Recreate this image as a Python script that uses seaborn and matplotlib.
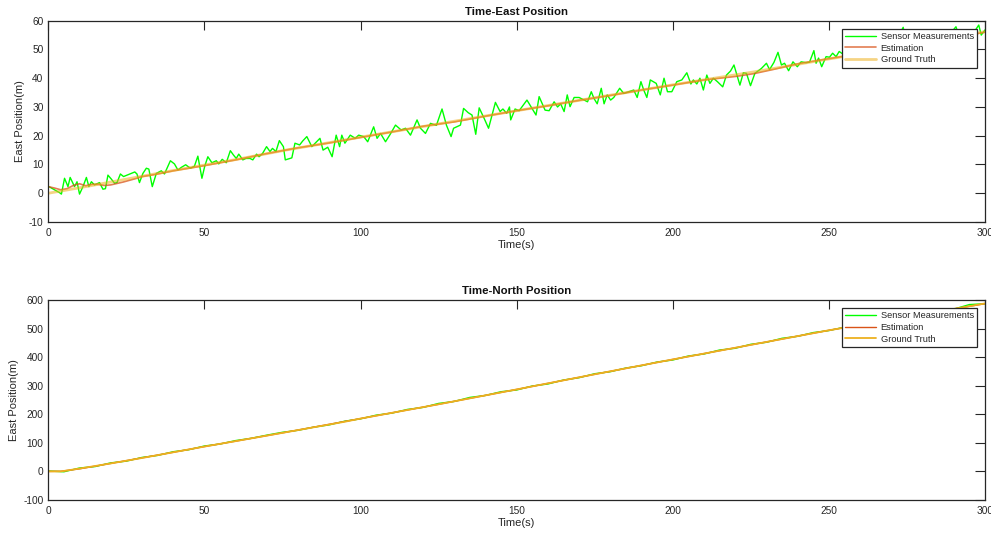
import numpy as np
import pandas as pd
import matplotlib
matplotlib.use("Agg")
import matplotlib.pyplot as plt
import seaborn as sns

# ---------------- data ----------------
# Top panel: Time-East position
east_sensor_t = [0.2, 1.5, 3.6, 4.2, 5.2, 6.3, 7.0, 8.4, 9.2, 10.0, 11.1, 12.2, 13.0, 13.8, 14.8,
                 16.4, 17.5, 18.3, 19.1, 20.2, 21.2, 22.0, 23.1, 24.1, 25.2, 26.6, 27.7, 28.4, 29.2,
                 30.3, 31.4, 32.2, 33.3, 34.6, 36.2, 37.2, 39.1, 40.4, 41.5, 42.6, 44.0, 45.5, 46.8,
                 47.9, 49.2, 50.1, 51.1, 52.4, 53.8, 54.6, 55.7, 57.0, 58.3, 59.3, 60.2, 61.0, 62.3,
                 63.3, 64.6, 65.5, 66.7, 67.5, 68.6, 69.9, 71.0, 71.8, 72.9, 74.0, 75.3, 75.9, 78.0,
                 79.0, 80.5, 81.5, 82.8, 84.4, 87.0, 88.0, 89.5, 90.9, 92.2, 93.3, 94.0, 95.0, 96.7,
                 98.3, 99.4, 101.0, 102.3, 104.2, 105.3, 106.4, 108.0, 109.5, 111.2, 113.0, 114.4,
                 116.0, 118.1, 119.2, 120.8, 122.4, 124.3, 126.1, 127.5, 129.0, 129.8, 132.0, 133.0,
                 134.5, 135.7, 136.9, 138.0, 139.6, 141.0, 143.2, 144.7, 145.6, 146.8, 147.7, 148.1,
                 149.5, 150.8, 153.3, 154.6, 156.2, 157.2, 159.1, 160.4, 162.0, 163.1, 164.1, 165.2,
                 166.2, 167.1, 168.4, 170.0, 171.6, 172.7, 173.9, 174.8, 175.8, 177.1, 178.0, 179.0,
                 180.1, 181.1, 183.0, 184.3, 185.9, 187.5, 188.6, 189.8, 190.7, 191.7, 192.8, 194.7,
                 196.0, 197.2, 198.3, 199.7, 201.3, 202.9, 204.5, 205.8, 206.6, 207.7, 208.7, 209.8,
                 210.9, 211.9, 213.0, 214.3, 216.0, 217.2, 218.5, 219.6, 221.5, 222.6, 223.6, 224.9,
                 226.3, 228.4, 230.0, 231.0, 232.4, 233.7, 234.8, 235.8, 237.1, 238.5, 239.9, 241.1,
                 242.7, 243.8, 245.2, 245.9, 246.7, 247.7, 249.1, 250.2, 251.2, 252.3, 253.3, 255.0,
                 256.5, 258.0, 259.5, 261.0, 262.5, 264.0, 265.5, 267.0, 268.5, 270.0, 271.5, 273.8,
                 275.0, 276.5, 278.0, 279.5, 281.0, 282.5, 284.0, 285.5, 287.0, 288.5, 290.7, 292.0,
                 293.5, 295.0, 296.5, 298.0, 298.8, 300.0]
east_sensor_v = [2.3, 1.5, 0.2, -0.3, 5.2, 2.3, 5.5, 2.3, 4.0, -0.3, 2.3, 5.5, 2.3, 4.0, 2.9,
                 3.7, 1.4, 1.6, 6.3, 4.9, 3.5, 3.7, 6.7, 5.8, 6.3, 6.9, 7.4, 6.7, 3.7,
                 6.9, 8.7, 8.4, 2.3, 6.9, 7.8, 6.7, 11.3, 10.2, 8.1, 9.0, 9.9, 8.7, 9.4,
                 12.9, 5.2, 9.4, 12.7, 10.6, 11.3, 10.2, 11.8, 10.6, 14.8, 13.3, 12.1, 13.6, 11.6,
                 12.1, 12.1, 11.6, 13.6, 12.7, 13.8, 16.2, 14.5, 15.6, 14.5, 18.3, 16.2, 11.6, 12.3,
                 17.4, 16.8, 18.2, 19.7, 16.2, 19.1, 15.0, 16.0, 12.7, 20.2, 16.2, 20.2, 17.4, 20.2,
                 19.1, 20.2, 19.7, 17.9, 23.1, 19.1, 20.8, 17.9, 20.5, 23.7, 22.0, 22.6,
                 20.2, 25.5, 22.6, 20.8, 24.3, 23.6, 29.3, 23.7, 19.7, 22.6, 23.7, 29.5,
                 28.0, 27.2, 20.5, 29.7, 26.0, 22.6, 31.6, 28.4, 29.3, 27.8, 30.0, 25.5,
                 29.3, 28.7, 32.4, 30.1, 27.2, 33.6, 28.9, 28.7, 31.8, 30.0, 31.1, 28.4,
                 34.2, 30.1, 33.3, 33.3, 32.4, 31.8, 35.3, 32.9, 31.1, 36.5, 31.1, 34.2,
                 32.4, 33.3, 36.5, 34.7, 35.3, 35.9, 33.3, 38.8, 35.9, 33.3, 39.4, 38.2,
                 34.2, 40.0, 35.3, 35.3, 38.8, 39.4, 41.9, 38.0, 39.4, 38.0, 40.0, 35.9,
                 41.1, 38.2, 40.0, 38.8, 37.0, 41.1, 42.5, 44.6, 37.6, 41.9, 41.7, 37.4,
                 41.7, 43.4, 45.2, 43.0, 45.5, 49.0, 44.6, 45.2, 42.6, 45.7, 44.0, 45.7,
                 45.4, 45.6, 49.6, 45.2, 47.0, 44.0, 47.5, 47.3, 48.7, 47.5, 49.3, 48.0,
                 50.5, 47.2, 49.5, 51.0, 48.3, 50.6, 52.0, 49.2, 51.5, 50.0, 53.0, 57.7,
                 51.2, 52.8, 50.5, 53.5, 52.0, 54.0, 51.5, 54.8, 53.0, 55.0, 57.9, 53.5,
                 55.5, 54.0, 56.0, 58.5, 55.0, 56.8]

east_est_t = [0, 2, 4, 6, 8, 10, 12, 14, 16, 18, 20, 22, 24, 26, 28, 30, 33, 36, 40, 45, 50, 55,
              60, 65, 70, 76, 80, 90, 100, 110, 120, 130, 140, 150, 160, 170, 180, 190, 200,
              210, 215, 220, 226, 232, 240, 250, 260, 270, 280, 290, 300]
east_est_v = [2.3, 1.8, 1.2, 1.6, 2.7, 3.3, 2.6, 3.1, 3.1, 2.7, 2.9, 3.4, 3.9, 4.5, 5.1, 5.8, 6.3,
              6.9, 7.8, 8.7, 9.6, 10.6, 11.6, 12.7, 13.8, 15.0, 15.8, 17.5, 19.4, 21.3, 23.3, 24.8,
              26.8, 28.7, 30.4, 32.3, 34.0, 35.9, 37.6, 39.4, 40.0, 40.6, 41.6, 43.0, 45.0, 46.8,
              48.5, 50.4, 52.2, 54.0, 56.0]

east_true_t = [0, 10, 20, 30, 40, 50, 60, 76, 90, 100, 120, 150, 170, 200, 226, 250, 270, 300]
east_true_v = [0.0, 1.9, 3.9, 5.9, 7.9, 9.8, 11.7, 15.0, 17.6, 19.5, 23.2, 28.7, 32.3, 37.7,
               42.2, 46.7, 50.3, 56.2]

# Bottom panel: Time-North position
north_sensor_t = [0, 5, 10, 15, 20, 25, 30, 35, 40, 45, 50, 55, 60, 65, 70, 75, 80, 85, 90, 95,
                  100, 105, 110, 115, 120, 125, 130, 135, 140, 145, 150, 155, 160, 165, 170, 175,
                  180, 185, 190, 195, 200, 205, 210, 215, 220, 225, 230, 235, 240, 245, 250, 255,
                  260, 265, 270, 275, 280, 285, 290, 295, 300]
north_sensor_v = [1.5, -1.2, 12, 17, 30, 36, 49, 56, 69, 76, 89, 96, 108, 116, 127, 137, 144, 155,
                  163, 176, 184, 197, 204, 217, 224, 238, 245, 259, 266, 279, 285, 299, 306, 320,
                  328, 342, 349, 362, 370, 383, 390, 404, 411, 425, 431, 445, 452, 466, 473, 486,
                  493, 505, 512, 524, 530, 542, 549, 563, 568, 584, 587]

north_est_t = [0, 4, 10, 20, 30, 40, 50, 60, 75, 100, 125, 150, 175, 200, 225, 250, 275, 300]
north_est_v = [0, 0.5, 9, 28, 47.5, 67, 87, 106, 135, 185, 235, 287, 340, 392, 443, 494, 541, 587]

north_true_t = [0, 4, 10, 20, 30, 40, 50, 60, 75, 95, 100, 125, 150, 175, 200, 225, 250, 275, 300]
north_true_v = [0, 0, 10, 28, 47, 67, 87, 106, 135, 174, 185, 235, 287, 340, 392, 443, 494, 540, 588]

x_ticks = [0, 50, 100, 150, 200, 250, 300]
east_ticks = [-10, 0, 10, 20, 30, 40, 50, 60]
north_ticks = [-100, 0, 100, 200, 300, 400, 500, 600]

# ---------------- style ----------------
sns.set_style("white")
plt.rcParams['font.family'] = ['Liberation Sans', 'DejaVu Sans']
plt.rcParams['axes.unicode_minus'] = False
INK = '#262626'
GREEN = '#00FF00'
RED = '#D95319'
GOLD = '#EDB120'

fig = plt.figure(figsize=(9.91, 5.33), dpi=100)
ax1 = fig.add_axes([48.3 / 991, 1 - 222 / 533, (985 - 48.3) / 991, (222 - 20.7) / 533])
ax2 = fig.add_axes([48.3 / 991, 1 - 500 / 533, (985 - 48.3) / 991, (500 - 300) / 533])


def draw(ax, st, sv, et, ev, tt, tv, est_style, true_style):
    sns.lineplot(x=st, y=sv, ax=ax, color=GREEN, lw=1.0, label='Sensor Measurements',
                 estimator=None, sort=False)
    sns.lineplot(x=et, y=ev, ax=ax, label='Estimation', estimator=None, sort=False, **est_style)
    sns.lineplot(x=tt, y=tv, ax=ax, label='Ground Truth', estimator=None, sort=False, **true_style)


draw(ax1, east_sensor_t, east_sensor_v, east_est_t, east_est_v, east_true_t, east_true_v,
     dict(color=RED, lw=1.2, alpha=0.75), dict(color=GOLD, lw=2.0, alpha=0.55))
draw(ax2, north_sensor_t, north_sensor_v, north_est_t, north_est_v, north_true_t, north_true_v,
     dict(color=RED, lw=1.0), dict(color=GOLD, lw=1.3))

for ax, yt, title in [(ax1, east_ticks, 'Time-East Position'), (ax2, north_ticks, 'Time-North Position')]:
    ax.set_xlim(0, 300)
    ax.set_ylim(yt[0], yt[-1])
    ax.set_xticks(x_ticks)
    ax.set_yticks(yt)
    ax.set_xlabel('Time(s)', fontsize=8, color=INK, labelpad=1.5)
    ax.set_ylabel('East Position(m)', fontsize=8, color=INK, labelpad=3)
    ax.set_title(title, fontsize=8.2, fontweight='bold', color='#111111', pad=4)
    ax.tick_params(axis='both', direction='in', top=True, right=True, width=0.8,
                   colors=INK, labelsize=7.3)
    ax.tick_params(axis='x', length=6.3, pad=4.5)
    ax.tick_params(axis='y', length=7.2, pad=3.5)
    for s in ax.spines.values():
        s.set_visible(True)
        s.set_color(INK)
        s.set_linewidth(0.9)
    leg = ax.legend(loc='upper right', fontsize=6.7, handlelength=3.4, handletextpad=0.45,
                    borderpad=0.35, labelspacing=0.3, borderaxespad=0.85,
                    fancybox=False, framealpha=1.0, edgecolor=INK)
    leg.get_frame().set_linewidth(0.9)
    for t in leg.get_texts():
        t.set_color(INK)

fig.savefig('out.png', dpi=100)
